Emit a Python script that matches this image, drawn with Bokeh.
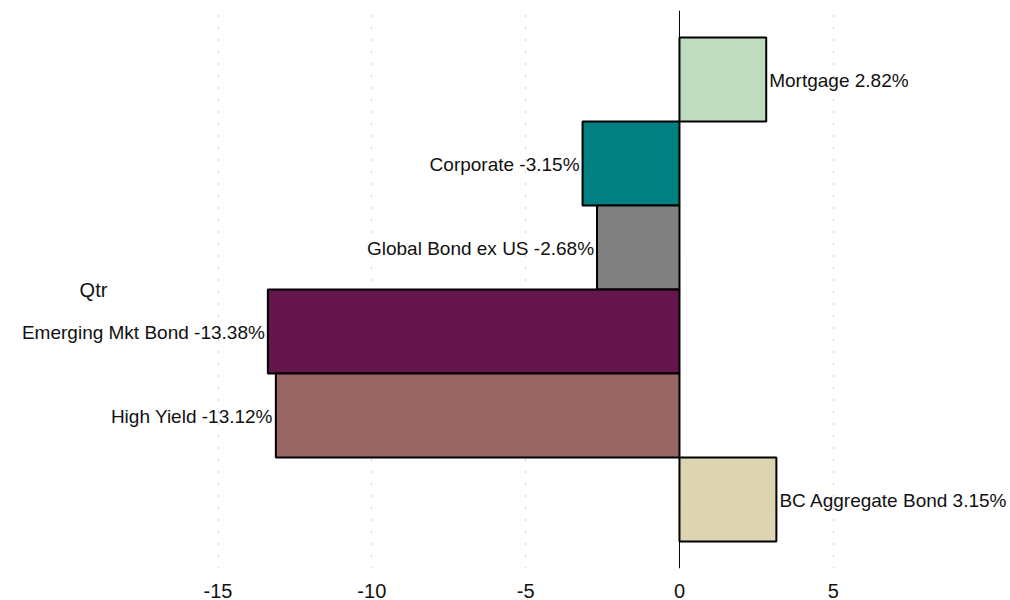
from bokeh.plotting import figure
from bokeh.models import ColumnDataSource, FixedTicker, Span, Label, Range1d, CustomJSTickFormatter
from bokeh.core.properties import value
from bokeh.embed import file_html
from bokeh.resources import INLINE

categories = ["Mortgage", "Corporate", "Global Bond ex US", "Emerging Mkt Bond", "High Yield", "BC Aggregate Bond"]
values = [2.82, -3.15, -2.68, -13.38, -13.12, 3.15]
colors = ["#C0DCC0", "#008080", "#808080", "#64154A", "#996666", "#DDD5B1"]
ticks = [-15, -10, -5, 0, 5]
group_label = "Qtr"

FONT = "Liberation Sans"
FS = "19px"
FS_AX = "20px"

n = len(categories)
ypos = [n - 1 - i for i in range(n)]
labels = [f"{c} {v:.2f}%" for c, v in zip(categories, values)]

src = ColumnDataSource(dict(y=ypos, v=values, color=colors, label=labels))
pos = ColumnDataSource(dict(y=[y for y, v in zip(ypos, values) if v >= 0],
                            v=[v for v in values if v >= 0],
                            label=[l for l, v in zip(labels, values) if v >= 0]))
neg = ColumnDataSource(dict(y=[y for y, v in zip(ypos, values) if v < 0],
                            v=[v for v in values if v < 0],
                            label=[l for l, v in zip(labels, values) if v < 0]))

p = figure(width=1010, height=600, output_backend="svg", toolbar_location=None,
           x_range=Range1d(-22.07, 10.76), y_range=Range1d(-0.823, 5.823),
           min_border_left=0, min_border_right=0, min_border_top=10, min_border_bottom=0)
p.outline_line_color = None
p.background_fill_color = "white"

p.hbar(y="y", left=0, right="v", height=1.0, source=src, fill_color="color",
       line_color="black", line_width=2)

p.text(x="v", y="y", text="label", source=pos, text_align="left", text_baseline="middle",
       x_offset=3, y_offset=1, text_font=value(FONT), text_font_size=FS, text_color="#111111")
p.text(x="v", y="y", text="label", source=neg, text_align="right", text_baseline="middle",
       x_offset=-3, y_offset=1, text_font=value(FONT), text_font_size=FS, text_color="#111111")

p.add_layout(Label(x=93, y=2.5, x_units="screen", text=group_label, text_align="center",
                   text_baseline="middle", text_font=FONT, text_font_size=FS_AX,
                   text_color="#111111"))

p.add_layout(Span(location=0, dimension="height", line_color="black", line_width=1))

p.yaxis.visible = False
p.ygrid.grid_line_color = None
p.xaxis.ticker = FixedTicker(ticks=ticks)
p.xaxis.formatter = CustomJSTickFormatter(code="return String(tick);")
p.xgrid.ticker = FixedTicker(ticks=[t for t in ticks if t != 0])
p.xgrid.grid_line_color = "#A0A0A0"
p.xgrid.grid_line_dash = "1 11"
p.xgrid.grid_line_width = 1
p.xaxis.axis_line_color = None
p.xaxis.major_tick_line_color = None
p.xaxis.minor_tick_line_color = None
p.xaxis.major_tick_out = 0
p.xaxis.major_tick_in = 0
p.xaxis.major_label_standoff = 15
p.xaxis.major_label_text_font = FONT
p.xaxis.major_label_text_font_size = FS_AX
p.xaxis.major_label_text_color = "#111111"

open("out.html", "w").write(file_html(p, INLINE))
